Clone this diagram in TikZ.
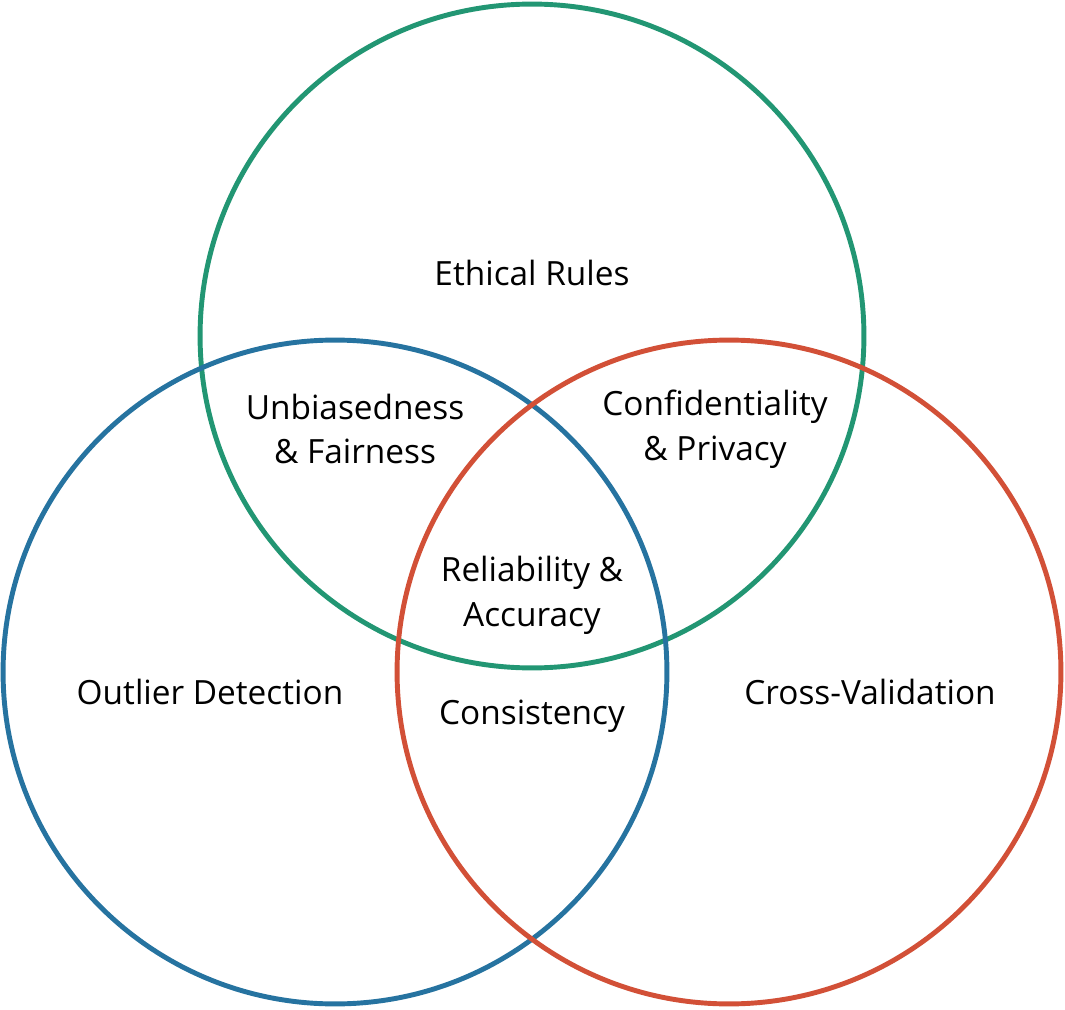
\documentclass[tikz,border=0pt]{standalone}
\usepackage{fontspec}
\setmainfont{Open Sans}
\definecolor{ethgreen}{RGB}{34,150,115}
\definecolor{outblue}{RGB}{38,115,160}
\definecolor{crossred}{RGB}{210,80,55}
\tikzset{
  ring/.style={line width=2.8pt},
  lbl/.style={align=center, font=\fontsize{19}{25.5}\selectfont}
}
\begin{document}
\begin{tikzpicture}[x=0.02cm,y=-0.02cm]
        \useasboundingbox (0,0) rectangle (1065,1010);

        \draw[ring, ethgreen] (532,336) circle (6.64cm);
        \draw[ring, outblue] (335,672) circle (6.64cm);
        \draw[ring, crossred] (729,672) circle (6.64cm);

        \node[lbl] (ethical) at (532,273) {Ethical Rules};
        \node[lbl] (unbiased) at (355,429) {Unbiasedness\\ \& Fairness};
        \node[lbl] (confid) at (715,429) {Confidentiality\\ \& Privacy};
        \node[lbl] (reliab) at (532,595) {Reliability \&\\ Accuracy};
        \node[lbl] (outlier) at (210,692) {Outlier Detection};
        \node[lbl] (consist) at (532,716) {Consistency};
        \node[lbl] (crossval) at (870,692) {Cross-Validation};
      \end{tikzpicture}
\end{document}
